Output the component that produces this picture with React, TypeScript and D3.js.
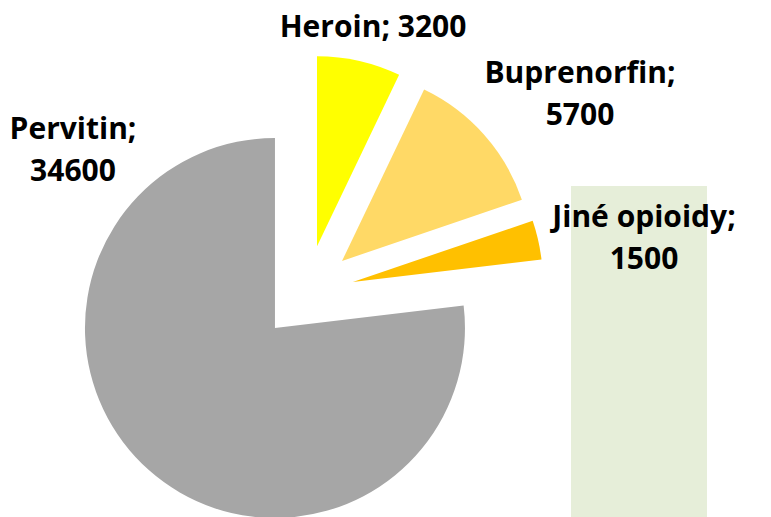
import React from "react";
import * as d3 from "d3";

const categories = ["Heroin", "Buprenorfin", "Jiné opioidy", "Pervitin"];
const values = [3200, 5700, 1500, 34600];
const colors = ["#FFFF00", "#FFD966", "#FFC000", "#A6A6A6"];
// label layout: centre x, first baseline y, single line or two lines
const labelLayout = [
  { x: 373, y: 37, oneLine: true },
  { x: 580, y: 83, oneLine: false },
  { x: 644, y: 227, oneLine: false },
  { x: 73, y: 139, oneLine: false },
];

const W = 771;
const H = 517;
const cx = 306.5;
const cy = 292.5;
const R = 190;
const explode = 47.5;

export default function App() {
  const pie = d3
    .pie<number>()
    .sort(null)
    .value((d) => d)
    .startAngle(0)
    .endAngle(2 * Math.PI);
  const arcs = pie(values);
  const arc = d3.arc<d3.PieArcDatum<number>>().innerRadius(0).outerRadius(R);

  return (
    <div style={{ position: "absolute", left: 0, top: 0 }}>
      <svg width={W} height={H} style={{ display: "block", background: "#fff" }}>
        <rect x={571} y={186} width={136} height={H - 186} fill="#E6EED9" />
        {arcs.map((a, i) => {
          const mid = (a.startAngle + a.endAngle) / 2;
          const dx = Math.sin(mid) * explode;
          const dy = -Math.cos(mid) * explode;
          return (
            <path
              key={categories[i]}
              d={arc(a) || ""}
              fill={colors[i]}
              transform={`translate(${cx + dx},${cy + dy})`}
            />
          );
        })}
        <g
          fontFamily="'Open Sans', 'Noto Sans', sans-serif"
          fontWeight={700}
          fontSize={30}
          fill="#000"
          textAnchor="middle"
        >
          {categories.map((c, i) => {
            const L = labelLayout[i];
            if (L.oneLine) {
              return (
                <text key={c} x={L.x} y={L.y}>
                  {`${c}; ${values[i]}`}
                </text>
              );
            }
            return (
              <text key={c} x={L.x} y={L.y}>
                <tspan x={L.x} y={L.y}>{`${c};`}</tspan>
                <tspan x={L.x} y={L.y + 42}>{`${values[i]}`}</tspan>
              </text>
            );
          })}
        </g>
      </svg>
    </div>
  );
}
